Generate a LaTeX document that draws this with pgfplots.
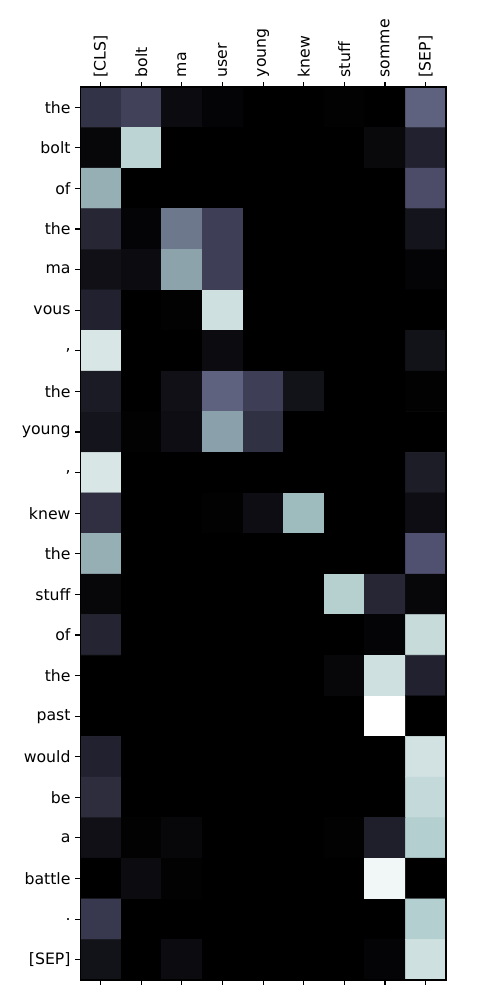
\documentclass[border=0pt]{standalone}
\usepackage{pgfplots}
\pgfplotsset{compat=1.18}
\usepackage{fontspec}
\setmainfont{DejaVu Sans}
\pgfplotsset{colormap={bone}{rgb(0pt)=(0,0,0) rgb(365pt)=(0.319,0.319,0.444) rgb(746pt)=(0.652,0.777,0.778) rgb(1000pt)=(1,1,1)}}
\begin{document}
\begin{tikzpicture}
\useasboundingbox (0,0) rectangle (360pt,720pt);
\begin{axis}[
  at={(57.8pt,14.4pt)}, anchor=south west,
  scale only axis, width=263.3pt, height=643.0pt,
  colormap name=bone,
  point meta min=0, point meta max=1,
  xmin=-0.5, xmax=8.5, ymin=-0.5, ymax=21.5,
  y dir=reverse,
  axis on top,
  axis line style={line width=0.8pt},
  tick style={black, line width=0.8pt},
  major tick length=3.5pt,
  tick align=outside,
  xtick pos=both, xticklabel pos=upper,
  ytick pos=left,
  xtick={0,...,8}, ytick={0,...,21},
  xticklabels={{[CLS]},{bolt},{ma},{user},{young},{knew},{stuff},{somme},{[SEP]}},
  yticklabels={{the},{bolt},{of},{the},{ma},{vous},{,},{the},{young},{,},{knew},{the},{stuff},{of},{the},{past},{would},{be},{a},{battle},{.},{[SEP]}},
  xticklabel style={rotate=90, anchor=west, font=\fontsize{11.3}{13}\selectfont},
  yticklabel style={font=\fontsize{11.3}{13}\selectfont},
]
\addplot[matrix plot*, mesh/cols=9, point meta=explicit] table[meta=c] {
x y c
0 0 0.23
1 0 0.29
2 0 0.05
3 0 0.02
4 0 0
5 0 0
6 0 0.01
7 0 0
8 0 0.42
0 1 0.03
1 1 0.81
2 1 0
3 1 0
4 1 0
5 1 0
6 1 0
7 1 0.04
8 1 0.15
0 2 0.67
1 2 0
2 2 0
3 2 0
4 2 0
5 2 0
6 2 0
7 2 0
8 2 0.34
0 3 0.17
1 3 0.02
2 3 0.49
3 3 0.28
4 3 0
5 3 0
6 3 0
7 3 0
8 3 0.09
0 4 0.07
1 4 0.05
2 4 0.63
3 4 0.28
4 4 0
5 4 0
6 4 0
7 4 0
8 4 0.02
0 5 0.15
1 5 0
2 5 0.01
3 5 0.86
4 5 0
5 5 0
6 5 0
7 5 0
8 5 0
0 6 0.89
1 6 0
2 6 0
3 6 0.05
4 6 0
5 6 0
6 6 0
7 6 0
8 6 0.08
0 7 0.12
1 7 0
2 7 0.07
3 7 0.42
4 7 0.28
5 7 0.08
6 7 0
7 7 0
8 7 0.01
0 8 0.09
1 8 0.01
2 8 0.06
3 8 0.62
4 8 0.22
5 8 0
6 8 0
7 8 0
8 8 0
0 9 0.89
1 9 0
2 9 0
3 9 0
4 9 0
5 9 0
6 9 0
7 9 0
8 9 0.13
0 10 0.21
1 10 0
2 10 0
3 10 0.01
4 10 0.06
5 10 0.71
6 10 0
7 10 0
8 10 0.06
0 11 0.67
1 11 0
2 11 0
3 11 0
4 11 0
5 11 0
6 11 0
7 11 0
8 11 0.36
0 12 0.03
1 12 0
2 12 0
3 12 0
4 12 0
5 12 0
6 12 0.79
7 12 0.17
8 12 0.03
0 13 0.16
1 13 0
2 13 0
3 13 0
4 13 0
5 13 0
6 13 0
7 13 0.02
8 13 0.84
0 14 0
1 14 0
2 14 0
3 14 0
4 14 0
5 14 0
6 14 0.03
7 14 0.86
8 14 0.15
0 15 0
1 15 0
2 15 0
3 15 0
4 15 0
5 15 0
6 15 0
7 15 1.0
8 15 0
0 16 0.15
1 16 0
2 16 0
3 16 0
4 16 0
5 16 0
6 16 0
7 16 0
8 16 0.87
0 17 0.20
1 17 0
2 17 0
3 17 0
4 17 0
5 17 0
6 17 0
7 17 0
8 17 0.83
0 18 0.07
1 18 0.01
2 18 0.03
3 18 0
4 18 0
5 18 0
6 18 0.01
7 18 0.14
8 18 0.785
0 19 0
1 19 0.05
2 19 0.01
3 19 0
4 19 0
5 19 0
6 19 0
7 19 0.96
8 19 0
0 20 0.25
1 20 0
2 20 0
3 20 0
4 20 0
5 20 0
6 20 0
7 20 0
8 20 0.785
0 21 0.08
1 21 0
2 21 0.05
3 21 0
4 21 0
5 21 0
6 21 0
7 21 0.02
8 21 0.86
};
\end{axis}
\end{tikzpicture}
\end{document}
